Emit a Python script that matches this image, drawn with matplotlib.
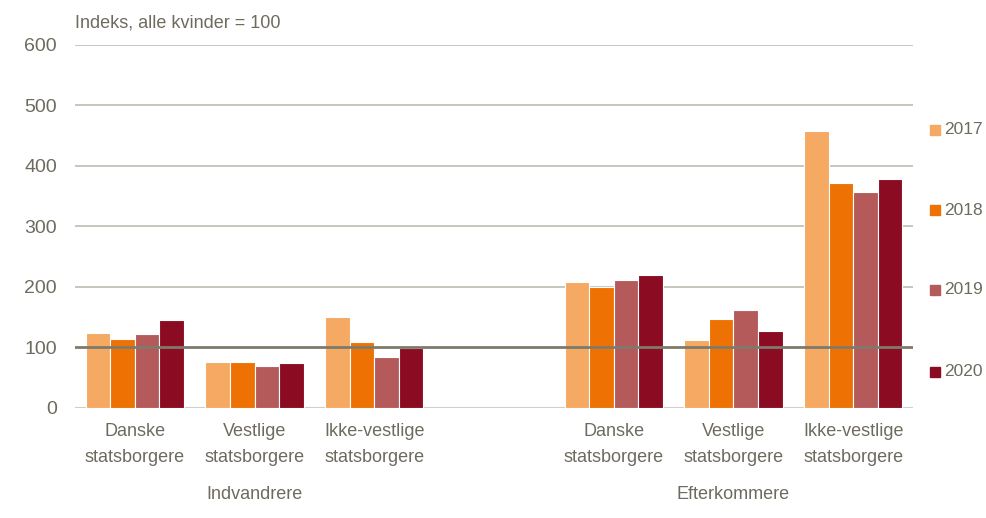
import matplotlib
matplotlib.use("Agg")
import matplotlib.pyplot as plt
import numpy as np

plt.rcParams['font.family'] = ['Liberation Sans Narrow', 'Liberation Sans', 'DejaVu Sans']

categories = ["Danske\nstatsborgere", "Vestlige\nstatsborgere", "Ikke-vestlige\nstatsborgere",
              "", "Danske\nstatsborgere", "Vestlige\nstatsborgere", "Ikke-vestlige\nstatsborgere"]
groups = ["Indvandrere", "Efterkommere"]
years = ["2017", "2018", "2019", "2020"]
v2017 = [124, 75, 150, np.nan, 208, 111, 458]
v2018 = [113, 75, 108, np.nan, 199, 146, 371]
v2019 = [122, 68, 84, np.nan, 211, 162, 356]
v2020 = [145, 73, 98, np.nan, 220, 127, 379]
colors = ["#F5A962", "#EE7203", "#B55A5A", "#8B0C22"]
yticks = [0, 100, 200, 300, 400, 500, 600]

txt = "#6E6B5E"
fig = plt.figure(figsize=(9.86, 5.18), dpi=100)
ax = fig.add_axes([75/986, (518-407.5)/518, (913-75)/986, (407.5-45)/518])

x = np.arange(len(categories))
w = 0.205
series = [v2017, v2018, v2019, v2020]
for i, (vals, c, yr) in enumerate(zip(series, colors, years)):
    ax.bar(x + (i - 1.5) * w, vals, width=w, color=c, edgecolor="white", linewidth=0.8,
           label=yr, zorder=3)

ax.set_xlim(-0.5, len(categories) - 0.5)
ax.set_ylim(0, 600)
ax.set_yticks(yticks)
ax.set_yticklabels([str(t) for t in yticks], fontsize=14, color=txt)
for t in yticks:
    if t == 100:
        ax.axhline(t, color="#7D7A6C", linewidth=2, zorder=4)
    elif t == 0:
        ax.axhline(t, color="#CFCEC8", linewidth=1.5, zorder=2)
    else:
        ax.axhline(t, color="#BDBBB0", linewidth=1.2, zorder=1)
ax.tick_params(axis='y', length=0, pad=13)
ax.tick_params(axis='x', length=0, pad=11)
ax.set_xticks(x)
ax.set_xticklabels(categories, fontsize=13, color=txt, linespacing=1.7)
for s in ax.spines.values():
    s.set_visible(False)

for gx, g in zip([1, 5], groups):
    ax.text(gx, -0.24, g, transform=ax.get_xaxis_transform(), ha="center", va="center",
            fontsize=13, color=txt)

fig.text(75/986, 1 - 23/518, "Indeks, alle kvinder = 100", ha="left", va="center",
         fontsize=13, color=txt)

leg_y = [130, 210, 290, 372]
for yy, c, yr in zip(leg_y, colors, years):
    fig.patches.append(plt.Rectangle((930/986, 1 - (yy + 5) / 518), 10/986, 10/518,
                                     transform=fig.transFigure, color=c))
    fig.text(944/986, 1 - yy/518, yr, ha="left", va="center", fontsize=12.5, color=txt)

fig.savefig("out.png", dpi=100)
